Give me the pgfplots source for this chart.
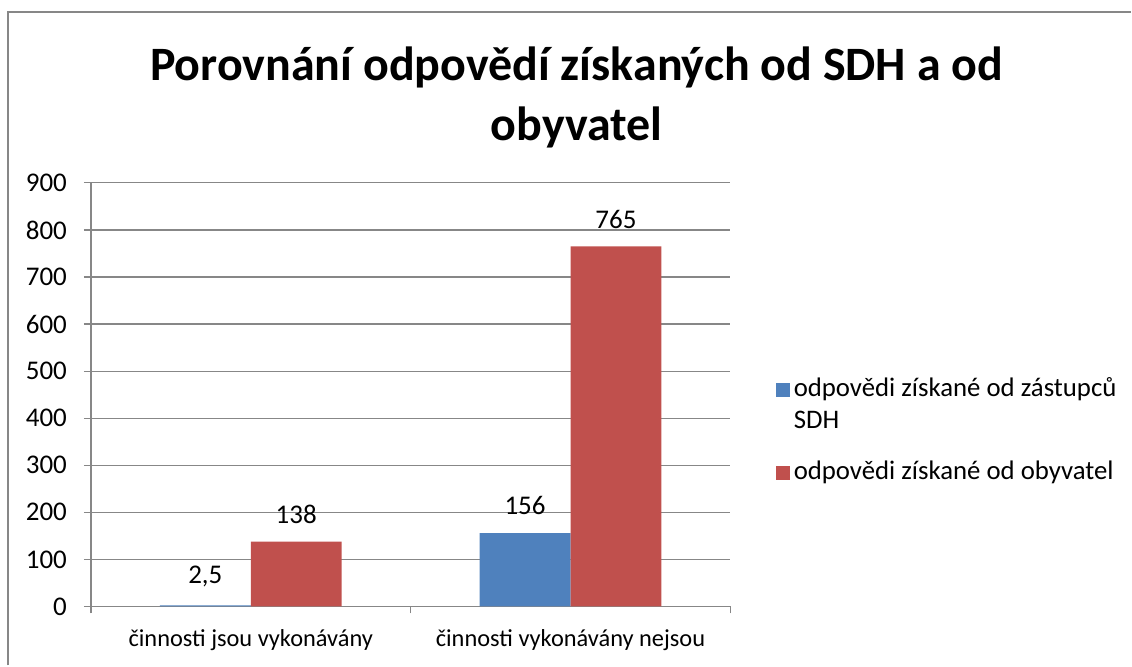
\documentclass[border=0pt]{standalone}
\usepackage{fontspec}
\setmainfont{Carlito}
\usepackage{pgfplots}
\pgfplotsset{compat=1.18}
\definecolor{xlblue}{HTML}{4F81BD}
\definecolor{xlred}{HTML}{C0504D}
\definecolor{xlgrid}{HTML}{878787}
\begin{document}
\begin{tikzpicture}[x=0.5pt,y=0.5pt]
\path (0,0) rectangle (1132,666);
\draw[xlgrid, line width=1pt] (8.5,0) -- (8.5,654) -- (1132,654);
\node[font=\bfseries\fontsize{24}{30}\selectfont, align=center] at (577,568)
  {Porovnání odpovědí získaných od SDH a od\\obyvatel};
\begin{axis}[
  at={(45.5pt,29.5pt)}, anchor=south west, scale only axis,
  width=320pt, height=212pt,
  ybar, bar width=45.5pt, ybar=0pt,
  xmin=-0.5, xmax=1.5, ymin=0, ymax=900,
  xtick={-0.5,0.5,1.5}, xticklabels={},
  extra x ticks={0,1},
  extra x tick labels={činnosti jsou vykonávány, činnosti vykonávány nejsou},
  extra x tick style={major tick length=0pt,
    tick label style={yshift=-8pt, font=\fontsize{12.2}{14}\selectfont}},
  ytick={0,100,...,900},
  ymajorgrids, grid style={xlgrid, line width=0.6pt},
  axis x line*=bottom, axis y line*=left,
  axis line style={xlgrid, line width=0.6pt, -},
  tick align=outside, major tick length=3.5pt,
  tick style={xlgrid, line width=0.6pt},
  tick label style={font=\fontsize{13.5}{15}\selectfont, black},
  yticklabel style={xshift=-5pt},
  /pgf/number format/assume math mode=true,
  /pgf/number format/use comma,
  nodes near coords,
  every node near coord/.append style={font=\fontsize{13.5}{15}\selectfont, black, yshift=5.5pt},
  legend style={at={(1.061,0.565)}, anchor=north west, draw=none,
    font=\fontsize{13.4}{15}\selectfont, row sep=26.5pt,
    cells={anchor=base west}},
]
\addplot[fill=xlblue, draw=none,
  legend image code/.code={\fill[xlblue] (0pt,-0.5pt) rectangle (7pt,6.5pt);}]
  coordinates {(0,2.5) (1,156)};
\addlegendentry{\begin{tabular}[t]{@{}l@{}}odpovědi získané od zástupců\\[1pt]SDH\end{tabular}}
\addplot[fill=xlred, draw=none,
  legend image code/.code={\fill[xlred] (0pt,-0.5pt) rectangle (7pt,6.5pt);}]
  coordinates {(0,138) (1,765)};
\addlegendentry{odpovědi získané od obyvatel}
\end{axis}
\end{tikzpicture}
\end{document}
